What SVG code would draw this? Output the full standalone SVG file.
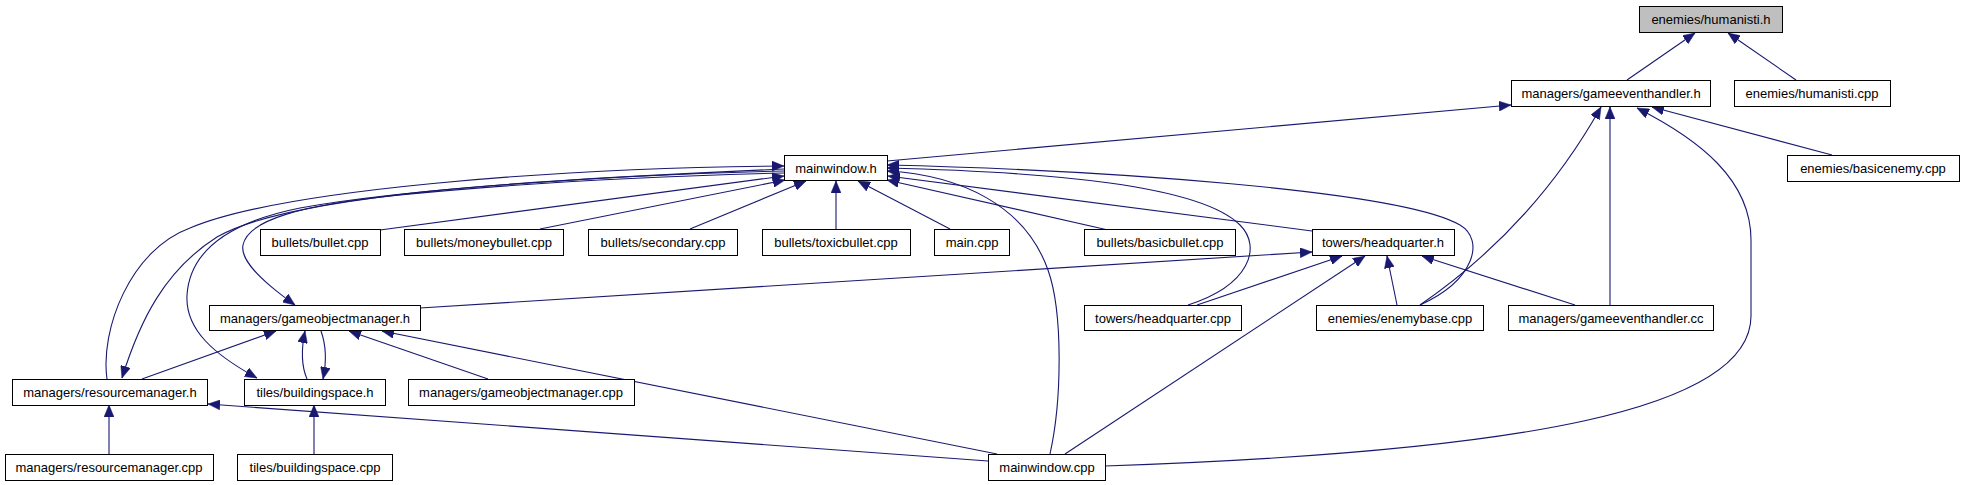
<svg xmlns="http://www.w3.org/2000/svg" width="1964" height="485" viewBox="0 0 1964 485">
<style>
.n rect{fill:#ffffff;stroke:#000000;stroke-width:1}
.n.root rect{fill:#bfbfbf}
.n text{font-family:"Liberation Sans",Arial,sans-serif;font-size:13px;fill:#000000;text-anchor:middle}
.e path{fill:none;stroke:#191970;stroke-width:1.1}
.e path.a{marker-start:url(#ah)}
</style>
<defs>
<marker id="ah" viewBox="0 0 12 10" refX="12" refY="5" markerWidth="12" markerHeight="10" markerUnits="userSpaceOnUse" orient="auto-start-reverse">
<path d="M0,0 L12,5 L0,10 z" fill="#191970" stroke="#191970" stroke-width="0.5"/>
</marker>
</defs>
<rect width="1964" height="485" fill="#ffffff"/>
<g id="connectors" class="e">
<path class="a" d="M1695,33 L1627,80"/>
<path class="a" d="M1728,33 L1796,80"/>
<path class="a" d="M1511,105 L887,161"/>
<path class="a" d="M1652,107 L1832,155"/>
<path class="a" d="M1601,107 C1560,180 1500,250 1420,305"/>
<path class="a" d="M1610,107 L1610,305"/>
<path class="a" d="M1637,108 C1700,140 1751,180 1751,240 L1751,316 C1751,410 1520,452 1105,466"/>
<path class="a" d="M887,165 C1100,170 1400,190 1460,225 C1485,240 1475,280 1420,305"/>
<path class="a" d="M887,168 C1050,172 1200,185 1240,225 C1262,247 1250,285 1188,305"/>
<path class="a" d="M887,171 C960,175 1025,205 1048,270 C1063,312 1062,400 1050,454"/>
<path class="a" d="M888,176 L1312,231"/>
<path class="a" d="M887,180 L1108,230"/>
<path class="a" d="M784,166 C550,168 280,190 190,228 C130,250 100,330 107,379"/>
<path class="a" d="M122,378 C140,320 165,270 217,237 C290,195 520,180 784,169"/>
<path class="a" d="M257,378 C215,355 185,330 187,295 C190,250 230,222 300,208 C400,190 600,175 784,171"/>
<path class="a" d="M295,305 C260,280 240,260 243,245 C248,220 300,205 400,195 C550,180 700,175 784,173"/>
<path class="a" d="M784,176 L380,230"/>
<path class="a" d="M785,180 L540,229"/>
<path class="a" d="M806,181 L690,229"/>
<path class="a" d="M836,181 L836,229"/>
<path class="a" d="M858,181 L950,229"/>
<path class="a" d="M1312,252 L420,308"/>
<path class="a" d="M276,331 L142,379"/>
<path class="a" d="M305,331 C301,350 301,365 307,379"/>
<path class="a" d="M323,379 C327,360 326,345 321,331"/>
<path class="a" d="M349,331 L488,379"/>
<path class="a" d="M382,331 L997,454"/>
<path class="a" d="M208,404 L988,461"/>
<path class="a" d="M109,405 L109,454"/>
<path class="a" d="M314,405 L314,454"/>
<path class="a" d="M1342,256 L1197,305"/>
<path class="a" d="M1365,256 L1065,454"/>
<path class="a" d="M1387,256 L1397,305"/>
<path class="a" d="M1422,256 L1575,305"/>
</g>
<g id="n_humanisti_h" class="n root"><rect x="1639.5" y="6.5" width="143" height="26"/><text x="1711" y="24">enemies/humanisti.h</text></g>
<g id="n_gameeventhandler_h" class="n"><rect x="1511.5" y="80.5" width="199" height="26"/><text x="1611" y="98">managers/gameeventhandler.h</text></g>
<g id="n_humanisti_cpp" class="n"><rect x="1734.5" y="80.5" width="156" height="26"/><text x="1812" y="98">enemies/humanisti.cpp</text></g>
<g id="n_mainwindow_h" class="n"><rect x="784.5" y="155.5" width="103" height="25"/><text x="836" y="172.5">mainwindow.h</text></g>
<g id="n_basicenemy_cpp" class="n"><rect x="1787.5" y="155.5" width="172" height="26"/><text x="1873" y="173">enemies/basicenemy.cpp</text></g>
<g id="n_bullet_cpp" class="n"><rect x="260.5" y="229.5" width="120" height="26"/><text x="320" y="247">bullets/bullet.cpp</text></g>
<g id="n_moneybullet_cpp" class="n"><rect x="404.5" y="229.5" width="159" height="26"/><text x="484" y="247">bullets/moneybullet.cpp</text></g>
<g id="n_secondary_cpp" class="n"><rect x="588.5" y="229.5" width="149" height="26"/><text x="663" y="247">bullets/secondary.cpp</text></g>
<g id="n_toxicbullet_cpp" class="n"><rect x="762.5" y="229.5" width="148" height="26"/><text x="836" y="247">bullets/toxicbullet.cpp</text></g>
<g id="n_main_cpp" class="n"><rect x="934.5" y="229.5" width="75" height="26"/><text x="972" y="247">main.cpp</text></g>
<g id="n_basicbullet_cpp" class="n"><rect x="1084.5" y="229.5" width="151" height="26"/><text x="1160" y="247">bullets/basicbullet.cpp</text></g>
<g id="n_headquarter_h" class="n"><rect x="1312.5" y="229.5" width="142" height="26"/><text x="1383" y="247">towers/headquarter.h</text></g>
<g id="n_gameobjectmanager_h" class="n"><rect x="209.5" y="305.5" width="211" height="25"/><text x="315" y="322.5">managers/gameobjectmanager.h</text></g>
<g id="n_headquarter_cpp" class="n"><rect x="1084.5" y="305.5" width="157" height="25"/><text x="1163" y="322.5">towers/headquarter.cpp</text></g>
<g id="n_enemybase_cpp" class="n"><rect x="1316.5" y="305.5" width="167" height="25"/><text x="1400" y="322.5">enemies/enemybase.cpp</text></g>
<g id="n_gameeventhandler_cc" class="n"><rect x="1508.5" y="305.5" width="205" height="25"/><text x="1611" y="322.5">managers/gameeventhandler.cc</text></g>
<g id="n_resourcemanager_h" class="n"><rect x="12.5" y="379.5" width="195" height="26"/><text x="110" y="397">managers/resourcemanager.h</text></g>
<g id="n_buildingspace_h" class="n"><rect x="244.5" y="379.5" width="141" height="26"/><text x="315" y="397">tiles/buildingspace.h</text></g>
<g id="n_gameobjectmanager_cpp" class="n"><rect x="408.5" y="379.5" width="226" height="26"/><text x="521" y="397">managers/gameobjectmanager.cpp</text></g>
<g id="n_resourcemanager_cpp" class="n"><rect x="5.5" y="454.5" width="208" height="26"/><text x="109" y="472">managers/resourcemanager.cpp</text></g>
<g id="n_buildingspace_cpp" class="n"><rect x="237.5" y="454.5" width="155" height="26"/><text x="315" y="472">tiles/buildingspace.cpp</text></g>
<g id="n_mainwindow_cpp" class="n"><rect x="988.5" y="454.5" width="117" height="26"/><text x="1047" y="472">mainwindow.cpp</text></g>
</svg>
